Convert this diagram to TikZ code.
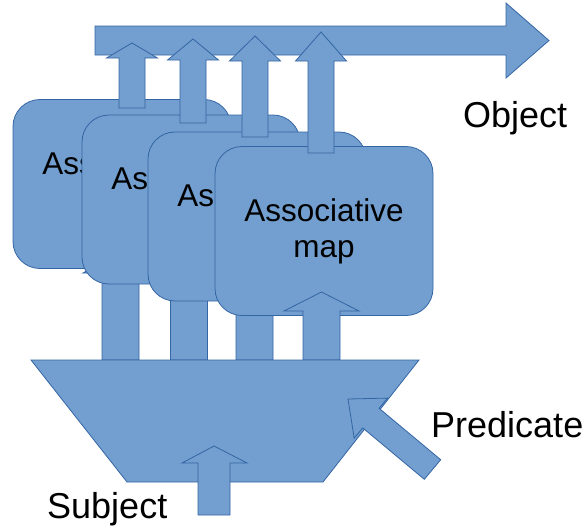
\documentclass[tikz,border=0pt]{standalone}
\usepackage{fontspec}
\setmainfont{Liberation Sans}
\definecolor{mapfill}{HTML}{729FCF}
\definecolor{mapline}{HTML}{3465A4}

\begin{document}
\begin{tikzpicture}[x=1pt, y=-1pt,
    blockarrow/.style={fill=mapfill, draw=mapline, line width=0.8pt, line join=miter},
    mapbox/.style={blockarrow, rounded corners=27pt, minimum width=218pt, minimum height=169pt,
        inner sep=0pt, align=center, font=\fontsize{31.5}{36}\selectfont},
    sidetext/.style={anchor=base west, inner sep=0pt, font=\fontsize{36}{40}\selectfont}]
    \useasboundingbox (0,0) rectangle (587,531);

    % Ausgang: Objekt
    \draw[blockarrow] (95,26) -- (506,26) -- (506,3) -- (549,40.5) -- (506,78) -- (506,55) -- (95,55) -- cycle;

    % Eingaenge der hinteren Karten (verdeckt)
    \foreach \cx/\hb/\tip in {120.5/273/252, 189/284/264, 254.5/296/276}
        \draw[blockarrow] (\cx-18.5,360) -- (\cx-18.5,\hb) -- (\cx-37.5,\hb) -- (\cx,\tip)
            -- (\cx+37.5,\hb) -- (\cx+18.5,\hb) -- (\cx+18.5,360) -- cycle;

    % Assoziative Karten mit Ausgaengen
    \foreach \k/\mx/\my/\cx/\bot/\hb/\tip in {1/122/184/132/108/58/43, 2/191/199.5/193/123/60/39,
                                              3/257/216.5/255/137/61/36, 4/324/231/321/153/61/32} {
        \node[mapbox] (map\k) at (\mx,\my) {Associative\\map};
        \draw[blockarrow] (\cx-13,\bot) -- (\cx-13,\hb) -- (\cx-25.5,\hb) -- (\cx,\tip)
            -- (\cx+25.5,\hb) -- (\cx+13,\hb) -- (\cx+13,\bot) -- cycle;
    }

    % Eingang der vorderen Karte
    \draw[blockarrow] (303,360) -- (303,311) -- (284,311) -- (321.5,292) -- (359,311) -- (340,311) -- (340,360) -- cycle;

    % Auswahl
    \draw[blockarrow] (31,360) -- (419,360) -- (323,482) -- (127,482) -- cycle;

    % Subjekt
    \draw[blockarrow] (198,515) -- (198,463) -- (182,463) -- (214,446) -- (247,463) -- (230,463) -- (230,515) -- cycle;
    % Praedikat
    \draw[blockarrow] (440.7,459.7) -- (379.1,408.3) -- (387.6,398.1) -- (348,399)
        -- (354.2,438.1) -- (362.7,427.9) -- (424.3,479.3) -- cycle;

    % Beschriftungen
    \node[sidetext] (object) at (463,127) {Object};
    \node[sidetext] (predicate) at (431,437) {Predicate};
    \node[sidetext] (subject) at (47,518) {Subject};
\end{tikzpicture}
\end{document}
